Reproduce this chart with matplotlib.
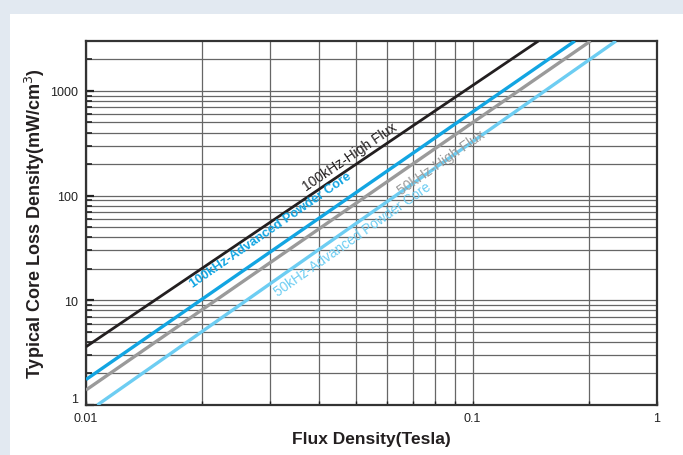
import numpy as np
import matplotlib.pyplot as plt
from matplotlib.ticker import FixedLocator, NullFormatter
from matplotlib.patches import Rectangle

plt.rcParams['font.family'] = ['Liberation Sans', 'DejaVu Sans']

# core loss curves (flux in T, loss in mW/cm3), straight on log-log
flux_hf100 = [0.01, 0.148]
loss_hf100 = [3.6, 3000]
flux_ap100 = [0.01, 0.184]
loss_ap100 = [1.75, 3000]
flux_hf50 = [0.01, 0.202]
loss_hf50 = [1.39, 3000]
flux_ap50 = [0.0107, 0.235]
loss_ap50 = [1.0, 3000]

names = ['100kHz-High Flux', '100kHz-Advanced Powder Core',
         '50kHz-High Flux', '50kHz-Advanced Powder Core']
colors = ['#231f20', '#12a5e2', '#9a9a9a', '#6dcdf2']
widths = [2.0, 2.4, 2.4, 2.4]
# label anchor points on the chart (flux, loss)
label_x = [0.0481, 0.0300, 0.0830, 0.0488]
label_y = [240, 47, 208, 39]
label_size = [10, 9.3, 10, 9.8]

x_ticks = [0.01, 0.1, 0.3]
x_ticklabels = ['0.01', '0.1', '1']
x_minor = [0.02, 0.03, 0.04, 0.05, 0.06, 0.07, 0.08, 0.09, 0.2]
y_ticks = [1, 10, 100, 1000]
y_ticklabels = ['1', '10', '100', '1000']
y_minor = [m * d for d in (1, 10, 100) for m in range(2, 10)] + [2000]

fig = plt.figure(figsize=(6.83, 4.56), dpi=100, facecolor='#e2e9f1')
# white card behind the chart
fig.patches.append(Rectangle((10 / 683, 0), 1, 1 - 15 / 456,
                             transform=fig.transFigure, facecolor='white',
                             edgecolor='none', zorder=-10))

ax = fig.add_axes([86 / 683, 50 / 456, 571 / 683, 364 / 456])
ax.set_xscale('log')
ax.set_yscale('log')
ax.set_xlim(0.01, 0.3)
ax.set_ylim(1, 3000)

ax.xaxis.set_major_locator(FixedLocator(x_ticks))
ax.set_xticklabels(x_ticklabels)
ax.xaxis.set_minor_locator(FixedLocator(x_minor))
ax.xaxis.set_minor_formatter(NullFormatter())
ax.yaxis.set_major_locator(FixedLocator(y_ticks))
ax.set_yticklabels(y_ticklabels)
ax.yaxis.set_minor_locator(FixedLocator(y_minor))
ax.yaxis.set_minor_formatter(NullFormatter())
# the bottom "1" sits just above its tick so it clears "0.01"
ax.get_yticklabels()[0].set_verticalalignment('bottom')

ax.grid(True, which='both', color='#666666', linewidth=0.9)
ax.set_axisbelow(True)
ax.tick_params(which='both', direction='in', colors='#222222', labelsize=9)
ax.tick_params(axis='y', which='major', length=6, width=1.6, pad=6)
ax.tick_params(axis='y', which='minor', length=4, width=1.2)
ax.tick_params(axis='x', which='both', length=3, width=1.0, pad=5)
for s in ax.spines.values():
    s.set_linewidth(1.6)
    s.set_color('#333333')

series = [(flux_hf100, loss_hf100), (flux_ap100, loss_ap100),
          (flux_hf50, loss_hf50), (flux_ap50, loss_ap50)]
for (fx, ly), c, w in zip(series, colors, widths):
    ax.plot(fx, ly, color=c, linewidth=w, solid_capstyle='butt', zorder=3)

fig.canvas.draw()
for (fx, ly), name, c, lx, lyy, fs in zip(series, names, colors,
                                          label_x, label_y, label_size):
    p0 = ax.transData.transform((fx[0], ly[0]))
    p1 = ax.transData.transform((fx[1], ly[1]))
    ang = np.degrees(np.arctan2(p1[1] - p0[1], p1[0] - p0[0]))
    ax.text(lx, lyy, name, color=c, fontsize=fs,
            fontweight='bold' if c == '#12a5e2' else 'normal',
            rotation=ang, rotation_mode='anchor', ha='center', va='center',
            zorder=4)

ax.set_xlabel('Flux Density(Tesla)', fontsize=12.5, fontweight='bold',
              color='#231f20', labelpad=5)
ax.set_ylabel('Typical Core Loss Density(mW/cm$^3$)', fontsize=13,
              fontweight='bold', color='#231f20', labelpad=2)

fig.savefig('out.png', dpi=100, facecolor=fig.get_facecolor())
